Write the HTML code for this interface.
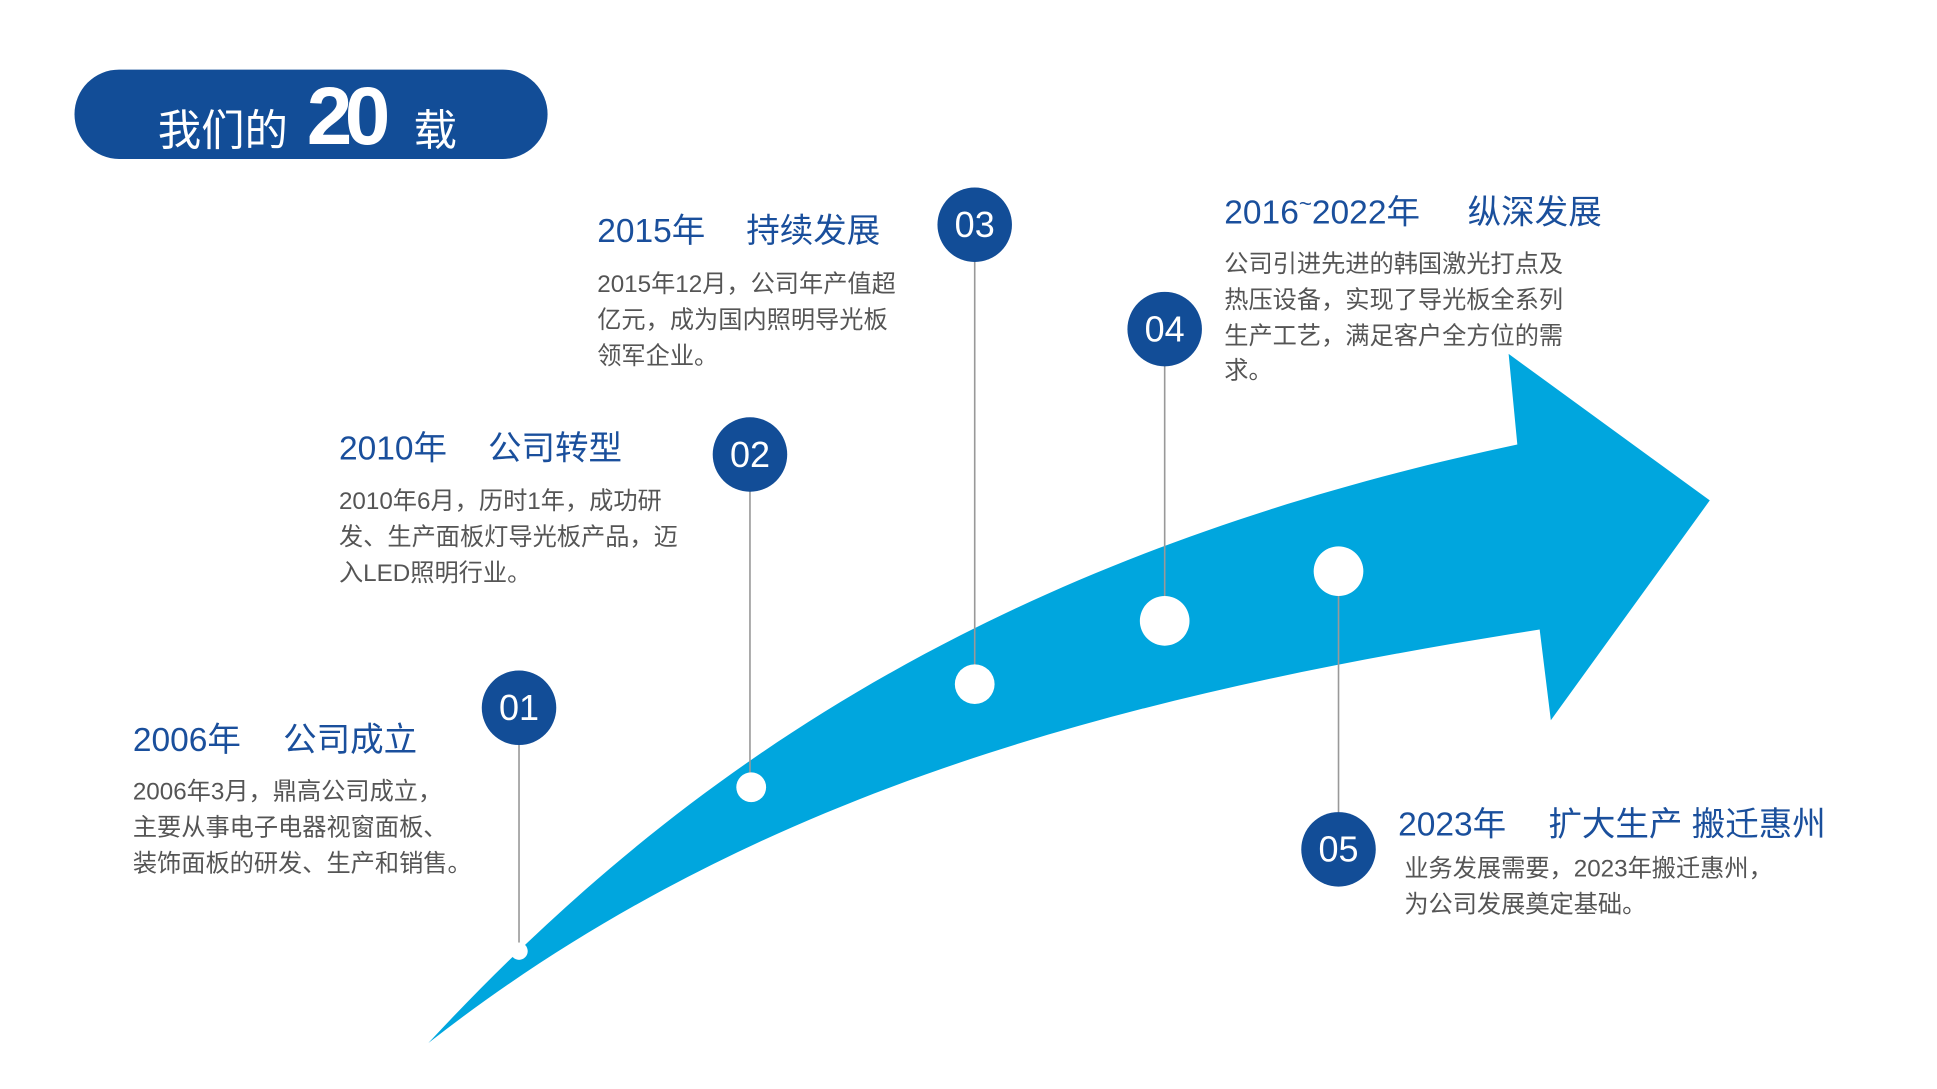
<!DOCTYPE html>
<html><head><meta charset="utf-8"><style>
html,body{margin:0;padding:0;background:#fff;width:1937px;height:1089px;overflow:hidden}
svg{display:block}
text{font-family:"Liberation Sans","Noto Sans CJK SC",sans-serif}
.t{fill:#1a4f9c;font-size:27px}
.b{fill:#555;font-size:19.5px}
.n{fill:#fff;font-size:29px;text-anchor:middle}
</style></head><body>
<svg width="1937" height="1089" viewBox="0 0 1560 877" xmlns="http://www.w3.org/2000/svg">
<rect x="60" y="56" width="381" height="72" rx="36" fill="#124d97"/>
<text x="127" y="117" fill="#fff" font-size="35">我们的</text>
<text x="247" y="116" fill="#fff" font-size="66" font-weight="bold" letter-spacing="-6">20</text>
<text x="333" y="117" fill="#fff" font-size="35">载</text>

<path d="M345,840 C 540,630 790,450 1222,358 L1215,285 L1377,403 L1249,580 L1240,507 C 900,560 600,640 345,840 Z" fill="#00a6de"/>

<g stroke="#999" stroke-width="1.3">
<line x1="418" y1="570" x2="418" y2="766"/>
<line x1="604" y1="366" x2="604" y2="634"/>
<line x1="785" y1="181" x2="785" y2="551"/>
<line x1="938" y1="265" x2="938" y2="500"/>
<line x1="1078" y1="460" x2="1078" y2="684"/>
</g>
<g fill="#fff">
<circle cx="418" cy="766" r="7"/>
<circle cx="605" cy="634" r="12"/>
<circle cx="785" cy="551" r="16"/>
<circle cx="938" cy="500" r="20"/>
<circle cx="1078" cy="460" r="20"/>
</g>
<g fill="#124d97">
<circle cx="418" cy="570" r="30"/>
<circle cx="604" cy="366" r="30"/>
<circle cx="785" cy="181" r="30"/>
<circle cx="938" cy="265" r="30"/>
<circle cx="1078" cy="684" r="30"/>
</g>
<text class="n" x="418" y="580">01</text>
<text class="n" x="604" y="376">02</text>
<text class="n" x="785" y="191">03</text>
<text class="n" x="938" y="275">04</text>
<text class="n" x="1078" y="694">05</text>

<text class="t" x="107" y="605">2006年</text><text class="t" x="228" y="605">公司成立</text>
<text class="b" x="107" y="644">2006年3月，鼎高公司成立，</text>
<text class="b" x="107" y="673">主要从事电子电器视窗面板、</text>
<text class="b" x="107" y="702">装饰面板的研发、生产和销售。</text>

<text class="t" x="273" y="370">2010年</text><text class="t" x="393" y="370">公司转型</text>
<text class="b" x="273" y="410">2010年6月，历时1年，成功研</text>
<text class="b" x="273" y="439">发、生产面板灯导光板产品，迈</text>
<text class="b" x="273" y="468">入LED照明行业。</text>

<text class="t" x="481" y="195">2015年</text><text class="t" x="601" y="195">持续发展</text>
<text class="b" x="481" y="235">2015年12月，公司年产值超</text>
<text class="b" x="481" y="264">亿元，成为国内照明导光板</text>
<text class="b" x="481" y="293">领军企业。</text>

<text class="t" x="986" y="180">2016<tspan font-size="18" dy="-10">~</tspan><tspan dy="10">2022年</tspan></text><text class="t" x="1182" y="180">纵深发展</text>
<text class="b" x="986" y="219">公司引进先进的韩国激光打点及</text>
<text class="b" x="986" y="248">热压设备，实现了导光板全系列</text>
<text class="b" x="986" y="277">生产工艺，满足客户全方位的需</text>
<text class="b" x="986" y="305">求。</text>

<text class="t" x="1126" y="673">2023年</text><text class="t" x="1247" y="673">扩大生产  搬迁惠州</text>
<text class="b" x="1131" y="706">业务发展需要，2023年搬迁惠州，</text>
<text class="b" x="1131" y="735">为公司发展奠定基础。</text>
</svg>
</body></html>
